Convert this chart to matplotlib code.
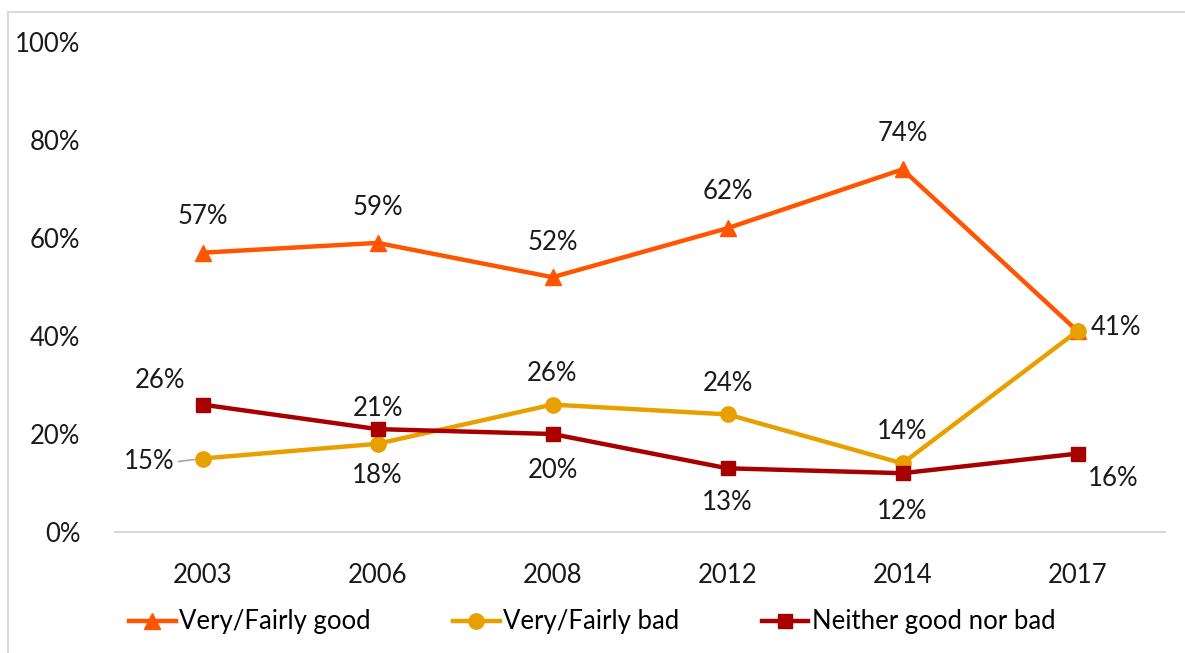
import matplotlib
matplotlib.use("Agg")
import matplotlib.pyplot as plt
from matplotlib.lines import Line2D

plt.rcParams['font.family'] = ['Lato', 'DejaVu Sans']

years = ["2003", "2006", "2008", "2012", "2014", "2017"]
good = [57, 59, 52, 62, 74, 41]
bad = [15, 18, 26, 24, 14, 41]
neither = [26, 21, 20, 13, 12, 16]
series_names = ["Very/Fairly good", "Very/Fairly bad", "Neither good nor bad"]
y_ticks = [0, 20, 40, 60, 80, 100]

colors = ["#FF5500", "#E8A000", "#A80000"]
markers = ["^", "o", "s"]
msizes = [12, 11, 9.5]
FS = 18.5

# label offsets in pixels (dx, dy); None = no label
offsets = [
    [(0, 36), (0, 35), (0, 35), (0, 37), (0, 36), None],
    [(-53, -3), (0, -32), (0, 31), (0, 31), (0, 32), (38, 4)],
    [(-42, 24), (0, 21), (0, -37), (0, -34), (0, -38), (36, -25)],
]

fig = plt.figure(figsize=(11.85, 6.53), dpi=100)
W, H = 1185, 653
ax = fig.add_axes([115 / W, (H - 532) / H, (1165 - 115) / W, (532 - 42) / H])

x = list(range(len(years)))
data = [good, bad, neither]
for i, (vals, name) in enumerate(zip(data, series_names)):
    ax.plot(x, vals, color=colors[i], lw=3.2, marker=markers[i], ms=msizes[i],
            label=name, zorder=3 + i, solid_capstyle='butt')
    for j, v in enumerate(vals):
        off = offsets[i][j]
        if off is None:
            continue
        ax.annotate(f"{v}%", (j, v), xytext=off, textcoords='offset pixels',
                    ha='center', va='center', fontsize=FS, color='#1a1a1a', zorder=10)

# leader line for 15% label
ax.annotate("", xy=(0, bad[0]), xytext=(-24, -3), textcoords='offset pixels',
            arrowprops=dict(arrowstyle='-', color='#a6a6a6', lw=1.2, shrinkA=0, shrinkB=6))

ax.set_xlim(-0.5, len(years) - 0.5)
ax.set_ylim(0, 100)
ax.set_xticks(x)
ax.set_xticklabels(years)
ax.set_yticks(y_ticks)
ax.set_yticklabels([f"{t}%" for t in y_ticks])
ax.tick_params(axis='both', length=0, labelsize=FS, colors='#1a1a1a')
ax.tick_params(axis='x', pad=22)
ax.tick_params(axis='y', pad=25)
for s in ['top', 'right', 'left']:
    ax.spines[s].set_visible(False)
ax.spines['bottom'].set_color('#d9d9d9')
ax.spines['bottom'].set_linewidth(1.5)

handles = [Line2D([0], [0], color=colors[i], lw=3.2, marker=markers[i], ms=msizes[i])
           for i in range(3)]
fig.legend(handles, series_names, loc='center', bbox_to_anchor=(0.5, (H - 622) / H),
           ncol=3, frameon=False, fontsize=FS, handlelength=1.8, handletextpad=0.15,
           columnspacing=3.2)

# figure border (top and left visible)
fig.add_artist(Line2D([7.5 / W, 7.5 / W], [0, (H - 12) / H], transform=fig.transFigure,
                      color='#d9d9d9', lw=1.5))
fig.add_artist(Line2D([7.5 / W, 1], [(H - 12) / H, (H - 12) / H], transform=fig.transFigure,
                      color='#d9d9d9', lw=1.5))

fig.savefig("out.png", dpi=100)
